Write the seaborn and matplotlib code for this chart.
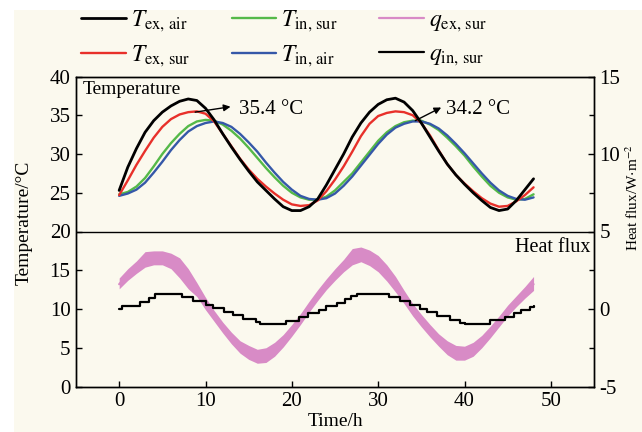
import matplotlib
matplotlib.use("Agg")
import matplotlib.pyplot as plt
import matplotlib.ticker as mticker
from matplotlib.patches import Rectangle
import seaborn as sns

# --- data (hourly) ---
hours = list(range(49))

t_ex_air = [25.3, 28.3, 30.7, 32.8, 34.3, 35.4, 36.2, 36.8, 37.1, 36.9,
            35.9, 34.4, 32.6, 30.9, 29.3, 27.8, 26.4, 25.3, 24.2, 23.2,
            22.7, 22.7, 23.2, 24.2, 26.0, 28.0, 30.0, 32.2, 34.0, 35.4,
            36.4, 37.0, 37.2, 36.7, 35.6, 34.0, 32.2, 30.4, 28.7, 27.3,
            26.1, 25.0, 24.0, 23.1, 22.7, 22.9, 24.0, 25.4, 26.8]
t_ex_sur = [24.7, 26.6, 28.6, 30.4, 32.1, 33.5, 34.5, 35.1, 35.4, 35.5,
            35.2, 34.2, 32.6, 31.0, 29.4, 28.0, 26.8, 25.8, 24.9, 24.1,
            23.5, 23.3, 23.4, 24.0, 25.2, 26.7, 28.4, 30.3, 32.3, 33.9,
            34.9, 35.3, 35.5, 35.4, 35.0, 34.0, 32.4, 30.5, 28.7, 27.3,
            26.2, 25.2, 24.3, 23.6, 23.2, 23.3, 23.9, 24.7, 25.7]
t_in_sur = [24.8, 25.1, 25.8, 26.9, 28.4, 30.0, 31.4, 32.6, 33.6, 34.2,
            34.4, 34.3, 33.8, 33.0, 32.0, 30.8, 29.5, 28.2, 27.0, 25.9,
            25.0, 24.4, 24.1, 24.1, 24.5, 25.3, 26.4, 27.5, 28.9, 30.3,
            31.7, 32.8, 33.6, 34.1, 34.3, 34.3, 33.8, 33.1, 32.1, 31.0,
            29.8, 28.4, 27.1, 25.9, 25.0, 24.4, 24.1, 24.2, 24.8]
t_in_air = [24.6, 24.9, 25.4, 26.3, 27.6, 29.0, 30.5, 31.8, 32.9, 33.6,
            34.0, 34.2, 34.0, 33.5, 32.6, 31.5, 30.3, 28.9, 27.6, 26.4,
            25.4, 24.6, 24.2, 24.1, 24.3, 24.9, 25.9, 27.1, 28.5, 29.9,
            31.3, 32.5, 33.4, 33.9, 34.2, 34.2, 33.9, 33.3, 32.4, 31.3,
            30.1, 28.8, 27.5, 26.3, 25.3, 24.6, 24.2, 24.1, 24.4]

# outer surface heat flux (W/m2): centre and noisy band edges
q_ex_sur = [1.6, 2.2, 2.7, 3.1, 3.3, 3.3, 3.1, 2.6, 1.9, 1.2,
            0.35, -0.45, -1.2, -1.9, -2.45, -2.8, -3.05, -3.0, -2.6, -2.05,
            -1.4, -0.65, 0.15, 0.9, 1.6, 2.2, 2.8, 3.3, 3.55, 3.3,
            2.9, 2.3, 1.55, 0.75, -0.05, -0.75, -1.4, -2.0, -2.5, -2.8,
            -2.85, -2.6, -2.1, -1.5, -0.8, -0.1, 0.5, 1.05, 1.6]
q_ex_low = [1.3, 1.85, 2.3, 2.7, 2.85, 2.85, 2.6, 2.0, 1.3, 0.8,
            -0.05, -0.8, -1.55, -2.25, -2.85, -3.25, -3.5, -3.45, -3.05, -2.45,
            -1.75, -1.0, -0.2, 0.55, 1.25, 1.85, 2.4, 2.85, 3.05, 2.8,
            2.4, 1.8, 1.1, 0.35, -0.45, -1.15, -1.8, -2.4, -2.95, -3.3,
            -3.3, -3.05, -2.5, -1.85, -1.15, -0.45, 0.15, 0.7, 1.2]
q_ex_high = [2.0, 2.6, 3.1, 3.7, 3.75, 3.75, 3.6, 3.3, 2.6, 1.7,
             0.75, -0.1, -0.85, -1.5, -2.05, -2.35, -2.6, -2.5, -2.15, -1.65,
             -1.0, -0.3, 0.5, 1.25, 1.95, 2.6, 3.2, 3.9, 4.0, 3.8,
             3.45, 2.85, 2.1, 1.2, 0.35, -0.35, -1.0, -1.6, -2.05, -2.35,
             -2.4, -2.15, -1.7, -1.1, -0.45, 0.25, 0.85, 1.45, 2.1]

# inner surface heat flux: stepped record
step_hours = [0.0, 0.3, 2.4, 3.5, 4.2, 7.3, 8.6, 10.0, 10.9, 12.1,
              13.2, 14.4, 15.9, 16.3, 19.3, 20.8, 21.9, 23.1, 24.0, 25.2,
              26.2, 26.9, 27.5, 31.2, 32.5, 33.7, 34.8, 35.6, 36.8, 38.3,
              39.5, 40.0, 43.0, 44.7, 45.7, 46.6, 47.6, 48.0]
q_in_sur = [0.0, 0.2, 0.45, 0.7, 0.95, 0.75, 0.5, 0.27, 0.05, -0.17,
            -0.4, -0.62, -0.85, -0.97, -0.75, -0.5, -0.27, -0.05, 0.17, 0.4,
            0.62, 0.85, 0.97, 0.75, 0.5, 0.27, 0.03, -0.2, -0.45, -0.7,
            -0.9, -0.97, -0.7, -0.5, -0.27, -0.05, 0.15, 0.2]

peak_labels = ["35.4 °C", "34.2 °C"]

CREAM = "#FBF9EE"
RED = "#E8302A"
GREEN = "#55B948"
BLUE = "#3558A8"
PINK = "#D88BC6"

sns.set_theme(style="ticks")
plt.rcParams.update({
    "font.family": ["Liberation Serif", "DejaVu Serif"],
    "mathtext.fontset": "stix",
    "axes.unicode_minus": False,
    "axes.edgecolor": "black", "axes.linewidth": 1.0,
    "xtick.color": "black", "ytick.color": "black",
    "text.color": "black", "axes.labelcolor": "black",
})

fig = plt.figure(figsize=(6.42, 4.32), dpi=100, facecolor="white")
fig.add_artist(Rectangle((14 / 642, 0), 1, 1 - 10 / 432, transform=fig.transFigure,
                         facecolor=CREAM, edgecolor="none", zorder=-10))
ax = fig.add_axes([76 / 642, 1 - 386.5 / 432, 518 / 642, 310 / 432])
ax.set_facecolor("none")
ax2 = ax.twinx()

lab = {
    "ex_air": r"$T_{\rm ex,\,air}$", "ex_sur": r"$T_{\rm ex,\,sur}$",
    "in_sur": r"$T_{\rm in,\,sur}$", "in_air": r"$T_{\rm in,\,air}$",
    "q_ex": r"$q_{\rm ex,\,sur}$", "q_in": r"$q_{\rm in,\,sur}$",
}

sns.lineplot(x=hours, y=t_in_sur, ax=ax, color=GREEN, lw=1.7, label=lab["in_sur"])
sns.lineplot(x=hours, y=t_in_air, ax=ax, color=BLUE, lw=1.7, label=lab["in_air"])
sns.lineplot(x=hours, y=t_ex_sur, ax=ax, color=RED, lw=1.7, label=lab["ex_sur"])
sns.lineplot(x=hours, y=t_ex_air, ax=ax, color="black", lw=2.0, label=lab["ex_air"])
ax.axhline(20, color="black", lw=1.0)

ax2.fill_between(hours, q_ex_low, q_ex_high, color=PINK, lw=0)
sns.lineplot(x=hours, y=q_ex_sur, ax=ax2, color=PINK, lw=1.6, label=lab["q_ex"])
sns.lineplot(x=step_hours, y=q_in_sur, ax=ax2, color="black", lw=1.6,
             drawstyle="steps-post", label=lab["q_in"])

for a in (ax, ax2):
    if a.get_legend() is not None:
        a.get_legend().remove()

ax.set_xlim(-5, 55)
ax.set_ylim(0, 40)
ax2.set_ylim(-5, 15)
ax.set_xticks(range(0, 51, 10))
ax.set_yticks(range(0, 41, 5))
ax2.set_yticks([-5, 0, 5, 10, 15])
ax2.yaxis.set_minor_locator(mticker.MultipleLocator(2.5))
ax.tick_params(axis="both", direction="in", length=4, width=1, labelsize=15, pad=4,
               top=False, right=False)
ax2.tick_params(axis="y", which="major", direction="in", length=4, width=1, labelsize=15, pad=4)
ax2.tick_params(axis="y", which="minor", direction="in", length=3.5, width=1)
for a in (ax, ax2):
    for s in a.spines.values():
        s.set_visible(True)
        s.set_color("black")
        s.set_linewidth(1.0)

ax.set_xlabel("Time/h", fontsize=14)
ax.xaxis.set_label_coords(0.5, -0.085)
ax.set_ylabel("Temperature/°C", fontsize=14)
ax.yaxis.set_label_coords(-0.083, 0.527)
ax2.set_ylabel(r"Heat flux/W$\cdot$m$^{-2}$", fontsize=11)
ax2.yaxis.set_label_coords(1.058, 0.608)

ax.text(0.012, 0.985, "Temperature", transform=ax.transAxes, ha="left", va="top", fontsize=14)
ax.text(0.993, 0.447, "Heat flux", transform=ax.transAxes, ha="right", va="center", fontsize=14.5)

arrow = dict(arrowstyle="-|>", color="black", lw=1.0, mutation_scale=10, shrinkA=0, shrinkB=0)
ax.annotate("", xy=(12.9, 36.1), xytext=(8.8, 35.4), arrowprops=arrow)
ax.text(13.9, 35.7, peak_labels[0], ha="left", va="center", fontsize=15)
ax.annotate("", xy=(37.3, 36.0), xytext=(34.3, 34.3), arrowprops=arrow)
ax.text(37.9, 35.8, peak_labels[1], ha="left", va="center", fontsize=15)

lines = {l.get_label(): l for l in ax.lines + ax2.lines}
order = ["ex_air", "ex_sur", "in_sur", "in_air", "q_ex", "q_in"]
fig.legend(handles=[lines[lab[k]] for k in order], labels=[lab[k] for k in order],
           ncol=3, loc="upper left", bbox_to_anchor=(67 / 642, 1.012), frameon=False,
           fontsize=17, handlelength=1.9, handletextpad=0.2, columnspacing=1.75,
           labelspacing=0.38, borderpad=0.1)

fig.savefig("out.png", dpi=100, facecolor=fig.get_facecolor())
